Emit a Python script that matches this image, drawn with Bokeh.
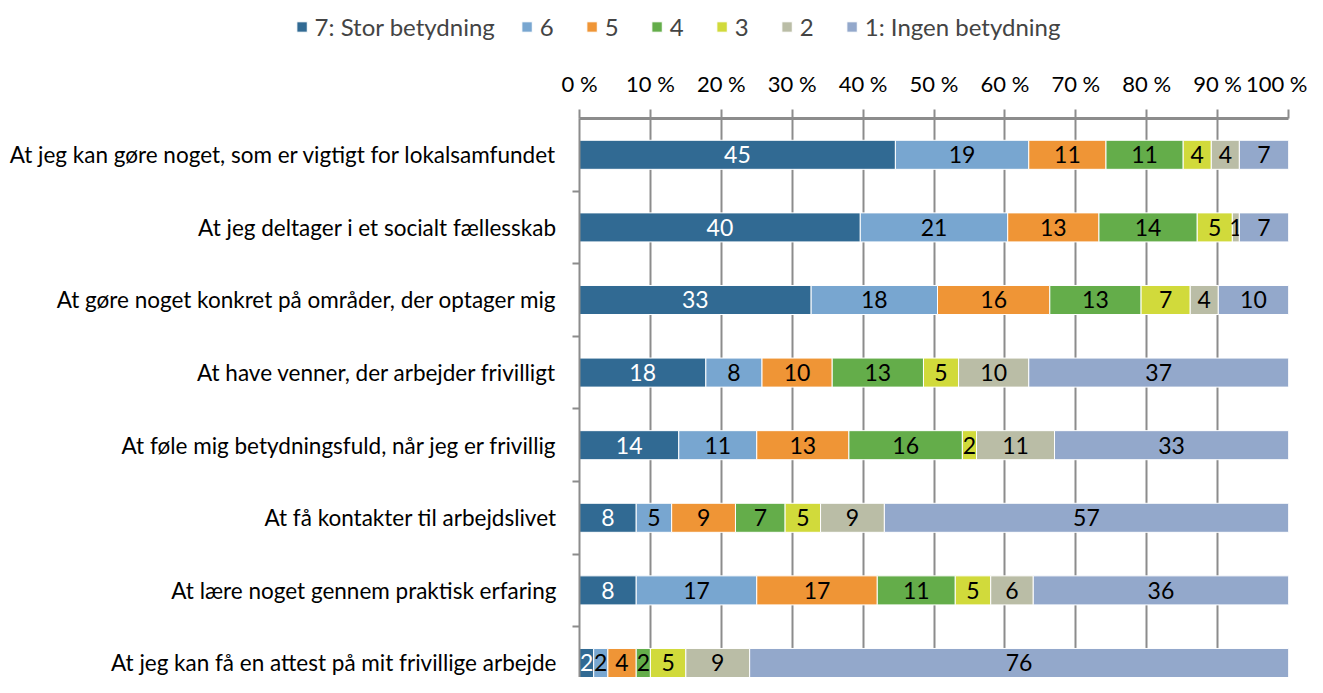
from bokeh.plotting import figure
from bokeh.layouts import column
from bokeh.models import Range1d, FixedTicker, Legend, LegendItem
from bokeh.embed import file_html
from bokeh.resources import INLINE
from bokeh.core.properties import value

categories = [
    "At jeg kan gøre noget, som er vigtigt for lokalsamfundet",
    "At jeg deltager i et socialt fællesskab",
    "At gøre noget konkret på områder, der optager mig",
    "At have venner, der arbejder frivilligt",
    "At føle mig betydningsfuld, når jeg er frivillig",
    "At få kontakter til arbejdslivet",
    "At lære noget gennem praktisk erfaring",
    "At jeg kan få en attest på mit frivillige arbejde",
]
series_names = ["7: Stor betydning", "6", "5", "4", "3", "2", "1: Ingen betydning"]
colors = ["#316A93", "#78A6D0", "#EF9536", "#64AD4A", "#D1DA3B", "#BABDA6", "#93A8CB"]
text_colors = ["white", "black", "black", "black", "black", "black", "black"]

s7 = [45, 40, 33, 18, 14, 8, 8, 2]
s6 = [19, 21, 18, 8, 11, 5, 17, 2]
s5 = [11, 13, 16, 10, 13, 9, 17, 4]
s4 = [11, 14, 13, 13, 16, 7, 11, 2]
s3 = [4, 5, 7, 5, 2, 5, 5, 5]
s2 = [4, 1, 4, 10, 11, 9, 6, 9]
s1 = [7, 7, 10, 37, 33, 57, 36, 76]
series = [s7, s6, s5, s4, s3, s2, s1]

x_ticks = [0, 10, 20, 30, 40, 50, 60, 70, 80, 90, 100]
x_tick_labels = ["0 %", "10 %", "20 %", "30 %", "40 %", "50 %", "60 %", "70 %", "80 %", "90 %", "100 %"]

FONT = "Lato"
GRAY = "#8C8C8C"
W = 1307
LEG_H = 50
MAIN_H = 627

n = len(categories)
ypos = list(range(1, n + 1))
totals = [sum(s[i] for s in series) for i in range(n)]

# ---- main chart
p = figure(
    width=W, height=MAIN_H,
    x_range=Range1d(0, 100), y_range=Range1d(0.5 + 7.70, 0.5),
    x_axis_location="above",
    output_backend="svg", toolbar_location=None,
    min_border_left=579, min_border_right=19, min_border_top=68, min_border_bottom=0,
)
p.frame_align = False
p.outline_line_color = None
p.background_fill_color = "white"

left = [0.0] * n
for k, s in enumerate(series):
    share = [s[i] / totals[i] * 100 for i in range(n)]
    right = [left[i] + share[i] for i in range(n)]
    p.hbar(y=ypos, left=left, right=right, height=0.4,
           fill_color=colors[k], line_color="white", line_width=1)
    mid = [(left[i] + right[i]) / 2 for i in range(n)]
    p.text(x=mid, y=ypos, text=[str(v) for v in s],
           text_align="center", text_baseline="middle",
           text_color=text_colors[k], text_font=value(FONT), text_font_size="23px")
    left = right

xa = p.xaxis[0]
xa.ticker = FixedTicker(ticks=x_ticks)
xa.major_label_overrides = {t: l for t, l in zip(x_ticks, x_tick_labels)}
xa.axis_line_color = GRAY
xa.axis_line_width = 3
xa.major_tick_line_color = GRAY
xa.major_tick_line_width = 2
xa.major_tick_out = 9
xa.major_tick_in = 0
xa.minor_tick_line_color = None
xa.major_label_standoff = 13
xa.major_label_text_font = FONT
xa.major_label_text_font_size = "22px"
xa.major_label_text_color = "black"

ya = p.yaxis[0]
ya.ticker = FixedTicker(ticks=ypos, minor_ticks=[i + 0.5 for i in ypos])
ya.major_label_overrides = {y: c for y, c in zip(ypos, categories)}
ya.axis_line_color = GRAY
ya.axis_line_width = 2
ya.major_tick_line_color = None
ya.major_tick_out = 0
ya.major_tick_in = 0
ya.minor_tick_line_color = GRAY
ya.minor_tick_line_width = 2
ya.minor_tick_out = 7
ya.minor_tick_in = 0
ya.major_label_standoff = 16
ya.major_label_text_font = FONT
ya.major_label_text_font_size = "22.5px"
ya.major_label_text_color = "black"

p.xgrid.ticker = FixedTicker(ticks=x_ticks)
p.xgrid.grid_line_color = GRAY
p.xgrid.grid_line_width = 2
p.ygrid.grid_line_color = None

# ---- legend strip
lg = figure(
    width=W, height=LEG_H,
    x_range=Range1d(0, 1), y_range=Range1d(0, 1),
    x_axis_type=None, y_axis_type=None,
    output_backend="svg", toolbar_location=None,
    min_border_left=48, min_border_right=0, min_border_top=12, min_border_bottom=0,
)
lg.frame_align = False
lg.outline_line_color = None
lg.grid.grid_line_color = None
items = []
for nm, c in zip(series_names, colors):
    r = lg.hbar(y=[0], left=[0], right=[0], height=0, fill_color=c, line_color="white", line_width=1)
    items.append(LegendItem(label=nm, renderers=[r]))
legend = Legend(
    items=items,
    orientation="horizontal",
    location="top_center",
    glyph_width=13, glyph_height=13,
    label_standoff=7, spacing=25, padding=0, margin=0,
    border_line_color=None, background_fill_alpha=0,
    label_text_font=FONT, label_text_font_size="24px",
)
lg.add_layout(legend, "center")

layout = column(lg, p, spacing=0)
open("out.html", "w").write(file_html(layout, INLINE))
